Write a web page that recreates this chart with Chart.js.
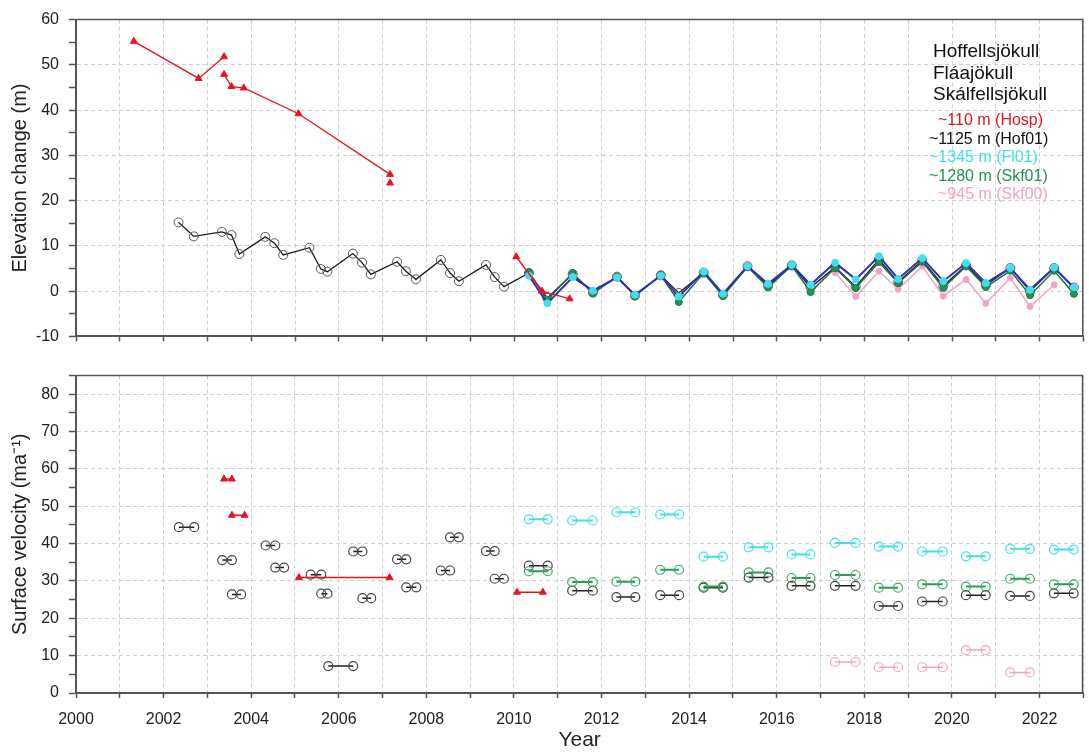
<!DOCTYPE html>
<html>
<head>
<meta charset="utf-8">
<script src="https://cdn.jsdelivr.net/npm/chart.js@4/dist/chart.umd.min.js"></script>
<style>
  html, body { margin: 0; padding: 0; background: #fff; }
  #wrap { position: relative; width: 1089px; height: 753px; overflow: hidden; }
  canvas { position: absolute; left: 0; }
  #elev { top: 0; }
  #vel { top: 356px; }
</style>
</head>
<body>
<div id="wrap">
  <canvas id="elev" width="1089" height="356"></canvas>
  <canvas id="vel" width="1089" height="397"></canvas>
</div>
<script>
const FONT = '"Liberation Sans", Arial, Helvetica, sans-serif';

// ---------- Elevation change (m) ----------
// Hosp (~110 m): separate runs are kept apart by the run index
const hospYears = [2001.32, 2002.80, 2003.38, 2003.38, 2003.55, 2003.83, 2005.08, 2007.17, 2007.17, 2010.05, 2010.64, 2011.27];
const hospElev  = [55.2, 47.0, 51.8, 47.9, 45.2, 44.9, 39.2, 25.8, 23.9, 7.6, 0.0, -1.7];
const hospRun   = [0, 0, 0, 1, 1, 1, 1, 1, 2, 3, 3, 3];

// Hof01 (~1125 m), before the twice-yearly survey
const hofEarlyYears = [2002.34, 2002.69, 2003.33, 2003.55, 2003.73, 2004.32, 2004.53, 2004.73, 2005.33, 2005.59, 2005.74,
                       2006.32, 2006.53, 2006.73, 2007.33, 2007.53, 2007.76, 2008.33, 2008.54, 2008.74, 2009.36, 2009.56, 2009.77];
const hofEarlyElev  = [15.2, 12.1, 13.1, 12.4, 8.2, 12.0, 10.6, 8.0, 9.6, 4.9, 4.3,
                       8.3, 6.3, 3.7, 6.5, 4.4, 2.6, 6.9, 4.0, 2.2, 5.8, 3.1, 1.0];

// spring / autumn survey epochs from 2010
const surveyYears = [2010.34, 2010.76, 2011.34, 2011.80, 2012.35, 2012.76, 2013.35, 2013.76, 2014.33, 2014.77,
                     2015.33, 2015.80, 2016.34, 2016.77, 2017.33, 2017.80, 2018.33, 2018.77, 2019.32, 2019.80,
                     2020.32, 2020.77, 2021.33, 2021.78, 2022.33, 2022.78];
const hofSurveyElev = [4.0, -1.5, 3.8, -0.3, 3.2, -1.0, 3.5, -0.4, 4.1, -0.8,
                       5.5, 1.2, 5.7, 0.8, 5.3, 1.0, 7.0, 2.0, 6.8, 1.2,
                       5.7, 1.3, 5.1, 0.0, 5.1, 0.8];
const fl01Elev      = [3.4, -2.7, 3.1, 0.1, 3.0, -0.8, 3.4, -1.2, 4.3, -0.6,
                       5.5, 1.6, 5.8, 1.4, 6.3, 2.6, 7.7, 2.7, 7.3, 2.2,
                       6.2, 1.8, 5.1, 0.3, 5.2, 0.8];
const skf01Elev     = [4.2, -1.9, 4.0, -0.5, 3.2, -1.1, 3.6, -2.4, 4.0, -1.1,
                       5.4, 0.8, 5.6, -0.2, 5.1, 0.7, 6.4, 1.8, 6.5, 0.7,
                       5.5, 0.9, 4.5, -0.9, 4.5, -0.6];
const skf00Years    = [2017.33, 2017.80, 2018.33, 2018.77, 2019.32, 2019.80, 2020.32, 2020.77, 2021.33, 2021.78, 2022.33];
const skf00Elev     = [4.1, -1.2, 4.4, 0.4, 5.5, -1.1, 2.6, -2.7, 2.9, -3.4, 1.4];

// ---------- Surface velocity (m a-1): period start, period end, value ----------
const hospVelStart = [2003.38, 2003.56, 2005.09, 2010.07];
const hospVelEnd   = [2003.56, 2003.85, 2007.16, 2010.66];
const hospVel      = [57.3, 47.6, 30.9, 27.0];

const hofVelStart = [2002.35, 2003.34, 2003.56, 2004.33, 2004.55, 2005.36, 2005.60, 2005.76, 2006.33, 2006.54,
                     2007.33, 2007.54, 2008.33, 2008.54, 2009.36, 2009.56, 2010.34, 2011.33, 2012.34, 2013.34,
                     2014.33, 2015.36, 2016.34, 2017.33, 2018.33, 2019.32, 2020.32, 2021.33, 2022.33];
const hofVelEnd   = [2002.70, 2003.56, 2003.77, 2004.55, 2004.75, 2005.60, 2005.74, 2006.33, 2006.54, 2006.74,
                     2007.54, 2007.77, 2008.54, 2008.74, 2009.56, 2009.77, 2010.77, 2011.80, 2012.77, 2013.77,
                     2014.77, 2015.81, 2016.77, 2017.80, 2018.77, 2019.79, 2020.77, 2021.78, 2022.78];
const hofVel      = [44.4, 35.6, 26.4, 39.5, 33.6, 31.7, 26.6, 7.2, 37.9, 25.4,
                     35.8, 28.3, 32.8, 41.7, 38.0, 30.6, 34.1, 27.4, 25.7, 26.2,
                     28.2, 30.9, 28.7, 28.7, 23.3, 24.5, 26.2, 26.0, 26.7];

const surveyVelStart = [2010.34, 2011.33, 2012.34, 2013.34, 2014.33, 2015.36, 2016.34, 2017.33, 2018.33, 2019.32, 2020.32, 2021.33, 2022.33];
const surveyVelEnd   = [2010.77, 2011.80, 2012.77, 2013.77, 2014.77, 2015.81, 2016.77, 2017.80, 2018.77, 2019.79, 2020.77, 2021.78, 2022.78];
const fl01Vel  = [46.5, 46.2, 48.4, 47.8, 36.5, 39.0, 37.1, 40.2, 39.2, 37.9, 36.6, 38.6, 38.4];
const skf01Vel = [32.6, 29.7, 29.8, 33.0, 28.5, 32.3, 30.8, 31.6, 28.2, 29.1, 28.5, 30.6, 29.1];

const skf00VelStart = [2017.33, 2018.33, 2019.32, 2020.32, 2021.33];
const skf00VelEnd   = [2017.80, 2018.77, 2019.79, 2020.77, 2021.78];
const skf00Vel      = [8.3, 6.9, 6.9, 11.5, 5.5];

// ---------- axis ticks ----------
const yearMin = 2000, yearMax = 2023;
const elevMin = -10, elevMax = 60;
const velMin = 0, velMax = 85;

// ---------- colours ----------
const RED = '#e8141c', BLACK = '#1a1a1a', CYAN = '#3fe0ee', BLUE = '#2f2fb8', GREEN = '#24934f', PINK = '#f3a2c6';

// ---------- helpers ----------
const points = (xs, ys) => xs.map((x, i) => ({ x, y: ys[i] }));
const byRun = (xs, ys, run) => {
  const out = [];
  xs.forEach((x, i) => {
    if (i > 0 && run[i] !== run[i - 1]) out.push({ x, y: null });
    out.push({ x, y: ys[i] });
  });
  return out;
};
const spans = (a, b, v) => {
  const out = [];
  a.forEach((s, i) => { out.push({ x: s, y: v[i] }, { x: b[i], y: v[i] }, { x: b[i], y: null }); });
  return out;
};

function xScale(labels, axisHeight, title) {
  return {
    type: 'linear', min: yearMin, max: yearMax,
    afterFit: s => { s.height = axisHeight; s.paddingLeft = 0; s.paddingRight = 0; },
    ticks: {
      stepSize: 1, autoSkip: false, maxRotation: 0, padding: 12, color: '#222',
      font: { size: 16, family: FONT },
      callback: v => (labels && v % 2 === 0 && v < yearMax) ? String(v) : ''
    },
    grid: { color: '#cfcfcf', lineWidth: 1, tickLength: 5, tickColor: '#555', tickWidth: 1.5 },
    border: { color: '#555', width: 2, dash: [4, 3] },
    title: title ? { display: true, text: title, color: '#222', font: { size: 21, family: FONT }, padding: { top: 0, bottom: 0 } } : { display: false }
  };
}

function yScale(min, max, title) {
  return {
    type: 'linear', min, max,
    afterFit: s => { s.width = 76; },
    ticks: {
      stepSize: 5, autoSkip: false, padding: 10, color: '#222',
      font: { size: 16, family: FONT },
      callback: v => (v % 10 === 0) ? String(v) : ''
    },
    grid: {
      color: c => (c.tick && c.tick.value % 10 === 0) ? '#cfcfcf' : 'rgba(0,0,0,0)',
      lineWidth: 1, tickLength: 7, tickColor: '#555', tickWidth: 1.5
    },
    border: { color: '#555', width: 2, dash: [4, 3] },
    title: { display: true, text: title, color: '#222', font: { size: 20, family: FONT }, padding: { top: 8, bottom: 0 } }
  };
}

// top and right frame lines of each panel
const framePlugin = {
  id: 'frame',
  afterDraw(chart) {
    const { ctx, chartArea: a } = chart;
    ctx.save();
    ctx.strokeStyle = '#555';
    ctx.lineWidth = 1.5;
    ctx.beginPath();
    ctx.moveTo(a.left, a.top);
    ctx.lineTo(a.right - 0.75, a.top);
    ctx.lineTo(a.right - 0.75, a.bottom);
    ctx.stroke();
    ctx.restore();
  }
};

// glacier names and stake key
const keyLines = [
  { text: 'Hoffellsjökull', x: 933, y: 52, color: '#111', size: 19 },
  { text: 'Fláajökull', x: 933, y: 73.5, color: '#111', size: 19 },
  { text: 'Skálfellsjökull', x: 933, y: 95, color: '#111', size: 19 },
  { text: '~110 m (Hosp)', x: 938, y: 121, color: RED, size: 16 },
  { text: '~1125 m (Hof01)', x: 929, y: 140, color: '#111', size: 16 },
  { text: '~1345 m (Fl01)', x: 929, y: 158, color: CYAN, size: 16 },
  { text: '~1280 m (Skf01)', x: 929, y: 177, color: GREEN, size: 16 },
  { text: '~945 m (Skf00)', x: 938, y: 195, color: PINK, size: 16 }
];
const keyPlugin = {
  id: 'key',
  afterDatasetsDraw(chart) {
    const { ctx } = chart;
    ctx.save();
    ctx.textAlign = 'left';
    ctx.textBaseline = 'middle';
    keyLines.forEach(l => {
      ctx.font = l.size + 'px ' + FONT;
      ctx.fillStyle = l.color;
      ctx.fillText(l.text, l.x, l.y);
    });
    ctx.restore();
  }
};

const common = {
  responsive: false,
  animation: false,
  devicePixelRatio: 1,
  plugins: { legend: { display: false }, tooltip: { enabled: false } },
};

// ---------- Elevation change panel ----------
new Chart(document.getElementById('elev'), {
  type: 'scatter',
  data: {
    datasets: [
      { label: 'Hosp', data: byRun(hospYears, hospElev, hospRun), showLine: true, spanGaps: false,
        borderColor: RED, borderWidth: 1.3, pointStyle: 'triangle', pointRadius: 4,
        pointBackgroundColor: RED, pointBorderColor: RED, pointBorderWidth: 1 },
      { label: 'Fl01', data: points(surveyYears, fl01Elev), showLine: true,
        borderColor: BLUE, borderWidth: 2, pointStyle: 'circle', pointRadius: 3.5,
        pointBackgroundColor: CYAN, pointBorderColor: CYAN, pointBorderWidth: 1 },
      { label: 'Skf01', data: points(surveyYears, skf01Elev), showLine: true,
        borderColor: '#1d6e3e', borderWidth: 1.5, pointStyle: 'circle', pointRadius: 3.5,
        pointBackgroundColor: GREEN, pointBorderColor: '#1d7a43', pointBorderWidth: 1 },
      { label: 'Hof01', data: points(hofEarlyYears.concat(surveyYears), hofEarlyElev.concat(hofSurveyElev)), showLine: true,
        borderColor: BLACK, borderWidth: 1.3, pointStyle: 'circle', pointRadius: 4.5,
        pointBackgroundColor: 'rgba(255,255,255,0)', pointBorderColor: '#555', pointBorderWidth: 1 },
      { label: 'Skf00', data: points(skf00Years, skf00Elev), showLine: true,
        borderColor: PINK, borderWidth: 1.5, pointStyle: 'circle', pointRadius: 3,
        pointBackgroundColor: PINK, pointBorderColor: PINK, pointBorderWidth: 1 }
    ]
  },
  options: Object.assign({}, common, {
    layout: { padding: { top: 17, right: 1, left: 0, bottom: 0 } },
    scales: {
      x: xScale(false, 15, null),
      y: yScale(elevMin, elevMax, 'Elevation change (m)')
    }
  }),
  plugins: [framePlugin, keyPlugin]
});

// ---------- Surface velocity panel ----------
new Chart(document.getElementById('vel'), {
  type: 'scatter',
  data: {
    datasets: [
      { label: 'Hosp', data: spans(hospVelStart, hospVelEnd, hospVel), showLine: true, spanGaps: false,
        borderColor: RED, borderWidth: 1.5, pointStyle: 'triangle', pointRadius: 4,
        pointBackgroundColor: RED, pointBorderColor: RED, pointBorderWidth: 1 },
      { label: 'Fl01', data: spans(surveyVelStart, surveyVelEnd, fl01Vel), showLine: true, spanGaps: false,
        borderColor: CYAN, borderWidth: 2, pointStyle: 'circle', pointRadius: 4.5,
        pointBackgroundColor: 'rgba(255,255,255,0)', pointBorderColor: CYAN, pointBorderWidth: 1.2 },
      { label: 'Skf01', data: spans(surveyVelStart, surveyVelEnd, skf01Vel), showLine: true, spanGaps: false,
        borderColor: '#2a9a55', borderWidth: 2, pointStyle: 'circle', pointRadius: 4.5,
        pointBackgroundColor: 'rgba(255,255,255,0)', pointBorderColor: '#3aab66', pointBorderWidth: 1.2 },
      { label: 'Hof01', data: spans(hofVelStart, hofVelEnd, hofVel), showLine: true, spanGaps: false,
        borderColor: '#222', borderWidth: 1.5, pointStyle: 'circle', pointRadius: 4.5,
        pointBackgroundColor: 'rgba(255,255,255,0)', pointBorderColor: '#444', pointBorderWidth: 1.2 },
      { label: 'Skf00', data: spans(skf00VelStart, skf00VelEnd, skf00Vel), showLine: true, spanGaps: false,
        borderColor: PINK, borderWidth: 1.5, pointStyle: 'circle', pointRadius: 4.5,
        pointBackgroundColor: 'rgba(255,255,255,0)', pointBorderColor: PINK, pointBorderWidth: 1.2 }
    ]
  },
  options: Object.assign({}, common, {
    layout: { padding: { top: 14, right: 1, left: 0, bottom: 0 } },
    scales: {
      x: xScale(true, 60, 'Year'),
      y: yScale(velMin, velMax, 'Surface velocity (ma⁻¹)')
    }
  }),
  plugins: [framePlugin]
});
</script>
</body>
</html>
